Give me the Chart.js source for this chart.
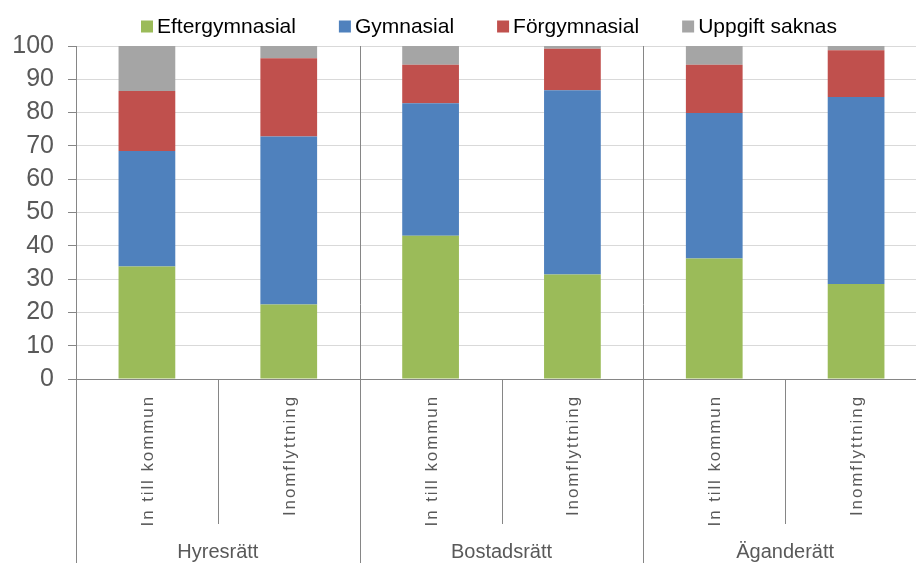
<!DOCTYPE html>
<html lang="sv">
<head>
<meta charset="utf-8">
<title>Utbildningsnivå efter upplåtelseform</title>
<script src="https://cdn.jsdelivr.net/npm/chart.js@4.4.1/dist/chart.umd.min.js"></script>
<style>
  html, body { margin: 0; padding: 0; background: #ffffff; overflow: hidden; }
  /* sista kategorin fortsätter något utanför högerkanten */
  .ram { width: 916px; height: 563px; overflow: hidden; }
  #diagram { display: block; }
</style>
</head>
<body>
<div class="ram">
  <canvas id="diagram" width="927" height="563"></canvas>
</div>
<script>
// Kategorier (nedre nivå) och grupper (övre nivå) på x-axeln
const kategorier = ['In till kommun', 'Inomflyttning', 'In till kommun', 'Inomflyttning', 'In till kommun', 'Inomflyttning'];
const grupper = ['Hyresrätt', 'Bostadsrätt', 'Äganderätt'];

// Andel i procent per utbildningsnivå
const eftergymnasial = [33.8, 22.4, 43.0, 31.4, 36.2, 28.5];
const gymnasial = [34.7, 50.4, 39.8, 55.3, 43.7, 56.2];
const forgymnasial = [18.0, 23.5, 11.6, 12.5, 14.5, 14.0];
const uppgiftSaknas = [13.5, 3.7, 5.6, 0.8, 5.6, 1.3];

const serieNamn = ['Eftergymnasial', 'Gymnasial', 'Förgymnasial', 'Uppgift saknas'];
const serieFarger = ['#9BBB59', '#4F81BD', '#C0504D', '#A5A5A5'];

// Y-axelns skala
const yMin = 0;
const yMax = 100;
const ySteg = 10;

const axelFarg = '#868686';
const textFarg = '#595959';
const typsnitt = "Arial, 'Liberation Sans', sans-serif";

// Ritar förklaring, grupplinjer och etiketter i två nivåer under x-axeln
const flernivaAxel = {
    id: 'flernivaAxel',
    afterDraw(chart) {
        const ctx = chart.ctx;
        const x = chart.scales.x;
        const area = chart.chartArea;
        const nederkant = chart.height;

        ctx.save();
        ctx.strokeStyle = axelFarg;
        ctx.lineWidth = 1;

        // Linjer mellan kategorier; grupplinjerna går genom hela diagrammet
        for (let i = 0; i <= kategorier.length; i++) {
            const px = Math.round(x.getPixelForValue(i - 0.5)) + 0.5;
            const grupp = i % 2 === 0;
            ctx.beginPath();
            if (grupp) {
                ctx.moveTo(px, area.top);
                ctx.lineTo(px, nederkant);
            } else {
                ctx.moveTo(px, area.bottom);
                ctx.lineTo(px, area.bottom + 145);
            }
            ctx.stroke();
        }

        // Roterade kategorietiketter
        ctx.fillStyle = textFarg;
        ctx.font = '17px ' + typsnitt;
        ctx.letterSpacing = '1.9px';
        ctx.textAlign = 'right';
        ctx.textBaseline = 'alphabetic';
        kategorier.forEach((etikett, i) => {
            const cx = x.getPixelForValue(i);
            ctx.save();
            ctx.translate(cx, area.bottom + 16);
            ctx.rotate(-Math.PI / 2);
            ctx.fillText(etikett, 0, 6);
            ctx.restore();
        });

        // Gruppetiketter
        ctx.letterSpacing = '0px';
        ctx.font = '20px ' + typsnitt;
        ctx.textAlign = 'center';
        grupper.forEach((grupp, g) => {
            const cx = (x.getPixelForValue(g * 2) + x.getPixelForValue(g * 2 + 1)) / 2;
            ctx.fillText(grupp, cx, 558);
        });

        // Förklaring överst
        ctx.font = '21px ' + typsnitt;
        ctx.textAlign = 'left';
        const ruta = 12;
        const rutaGap = 4;
        const postGap = 43;
        const bredder = serieNamn.map(n => ctx.measureText(n).width);
        const total = bredder.reduce((a, b) => a + b, 0) + serieNamn.length * (ruta + rutaGap) + (serieNamn.length - 1) * postGap;
        let lx = Math.round(489 - total / 2);
        const baslinje = 32.5;
        serieNamn.forEach((namn, i) => {
            ctx.fillStyle = serieFarger[i];
            ctx.fillRect(lx, baslinje - ruta, ruta, ruta);
            ctx.fillStyle = '#000000';
            ctx.fillText(namn, lx + ruta + rutaGap, baslinje);
            lx += ruta + rutaGap + bredder[i] + postGap;
        });

        ctx.restore();
    }
};

const serier = [eftergymnasial, gymnasial, forgymnasial, uppgiftSaknas];

new Chart(document.getElementById('diagram'), {
    type: 'bar',
    data: {
        labels: kategorier,
        datasets: serier.map((data, i) => ({
            label: serieNamn[i],
            data: data,
            backgroundColor: serieFarger[i],
            borderWidth: 0,
            categoryPercentage: 1,
            barPercentage: 0.40
        }))
    },
    options: {
        responsive: false,
        devicePixelRatio: 1,
        animation: false,
        layout: {
            padding: { top: 46, left: 0, right: 0, bottom: 0 }
        },
        plugins: {
            legend: { display: false },
            tooltip: { enabled: false }
        },
        scales: {
            x: {
                stacked: true,
                grid: { display: false },
                ticks: { display: false },
                border: { display: true, color: axelFarg, width: 1 },
                afterFit(scale) {
                    scale.height = 184;
                }
            },
            y: {
                stacked: true,
                min: yMin,
                max: yMax,
                ticks: {
                    stepSize: ySteg,
                    color: textFarg,
                    padding: 14,
                    font: { family: typsnitt, size: 25 }
                },
                grid: {
                    color: '#D9D9D9',
                    lineWidth: 1,
                    tickLength: 8,
                    tickColor: axelFarg
                },
                border: { display: true, color: axelFarg, width: 1 },
                afterFit(scale) {
                    scale.width = 76;
                }
            }
        }
    },
    plugins: [flernivaAxel]
});
</script>
</body>
</html>
